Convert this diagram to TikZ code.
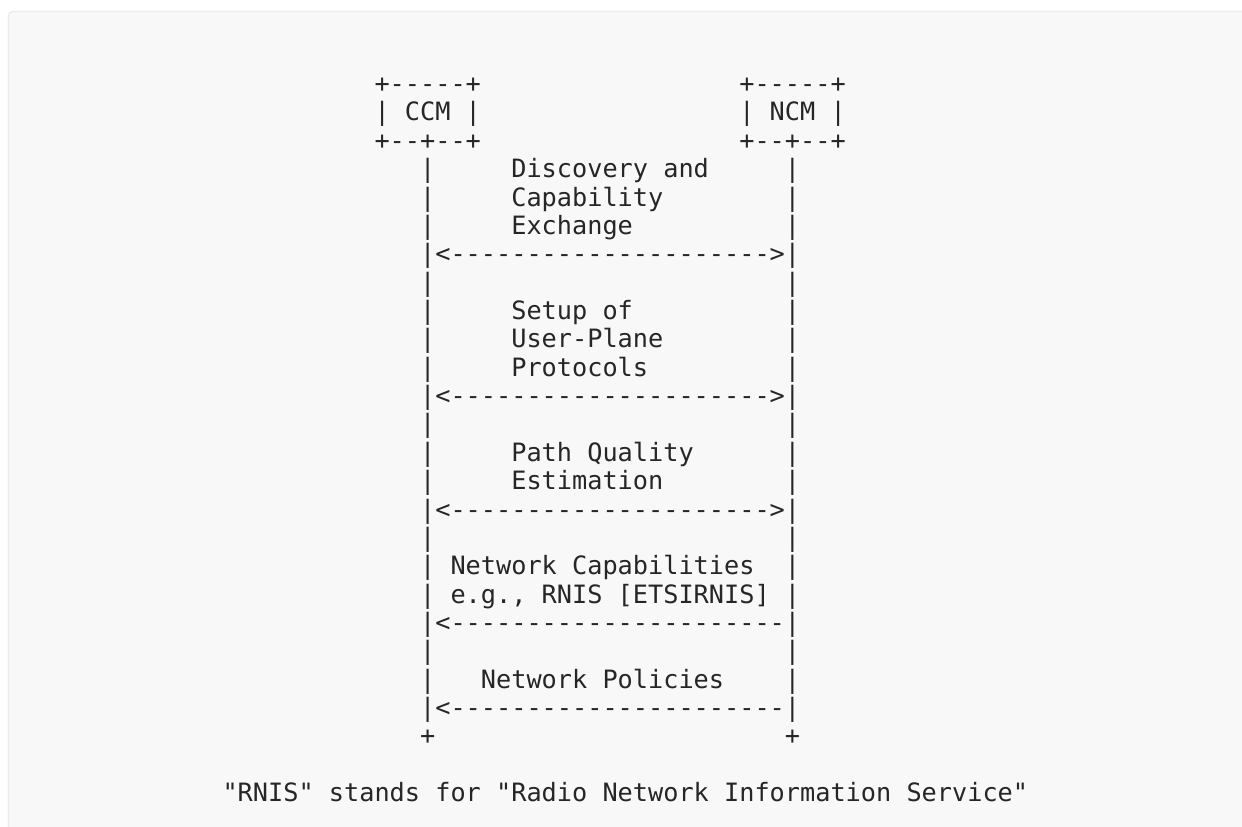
\documentclass[tikz,border=0pt]{standalone}
\usepackage{fontspec}
\setmonofont{DejaVu Sans Mono}
\begin{document}
\definecolor{panelfill}{HTML}{F8F8F8}
\definecolor{panelline}{HTML}{EBEBEB}
\definecolor{ink}{HTML}{262626}
\newcommand{\cw}{15.2}
\newcommand{\xo}{176.9}
\newcommand{\yo}{92.6}
\newcommand{\lh}{28.36}
\begin{tikzpicture}[x=1pt,y=-1pt,
  txt/.style={anchor=base west,inner sep=0pt,outer sep=0pt,text=ink,
    font=\ttfamily\fontsize{25.25}{28.36}\selectfont}]
\useasboundingbox (0,0) rectangle (1242,827);
\fill[panelfill,draw=panelline,line width=1.2pt,rounded corners=4pt] (8.5,11.5) rectangle (1262,870);
% boxes
\node[txt] (ccmtop) at ({\xo+13*\cw},{\yo+0*\lh}) {+-----+};
\node[txt] (ncmtop) at ({\xo+37*\cw},{\yo+0*\lh}) {+-----+};
\node[txt] (ccm) at ({\xo+13*\cw},{\yo+1*\lh}) {| CCM |};
\node[txt] (ncm) at ({\xo+37*\cw},{\yo+1*\lh}) {| NCM |};
\node[txt] (ccmbot) at ({\xo+13*\cw},{\yo+2*\lh}) {+--+--+};
\node[txt] (ncmbot) at ({\xo+37*\cw},{\yo+2*\lh}) {+--+--+};
% lifelines
\foreach \r in {3,4,5,7,8,9,10,12,13,14,16,17,18,20,21}{
  \node[txt] (ll\r) at ({\xo+16*\cw},{\yo+\r*\lh}) {|};
  \node[txt] (rl\r) at ({\xo+40*\cw},{\yo+\r*\lh}) {|};
}
% arrows
\foreach \r in {6,11,15}{
  \node[txt] (arr\r) at ({\xo+16*\cw},{\yo+\r*\lh}) {|<--------------------->|};
}
\foreach \r in {19,22}{
  \node[txt] (arr\r) at ({\xo+16*\cw},{\yo+\r*\lh}) {|<----------------------|};
}
% labels
\node[txt] (m1a) at ({\xo+22*\cw},{\yo+3*\lh}) {Discovery and};
\node[txt] (m1b) at ({\xo+22*\cw},{\yo+4*\lh}) {Capability};
\node[txt] (m1c) at ({\xo+22*\cw},{\yo+5*\lh}) {Exchange};
\node[txt] (m2a) at ({\xo+22*\cw},{\yo+8*\lh}) {Setup of};
\node[txt] (m2b) at ({\xo+22*\cw},{\yo+9*\lh}) {User-Plane};
\node[txt] (m2c) at ({\xo+22*\cw},{\yo+10*\lh}) {Protocols};
\node[txt] (m3a) at ({\xo+22*\cw},{\yo+13*\lh}) {Path Quality};
\node[txt] (m3b) at ({\xo+22*\cw},{\yo+14*\lh}) {Estimation};
\node[txt] (m4a) at ({\xo+18*\cw},{\yo+17*\lh}) {Network Capabilities};
\node[txt] (m4b) at ({\xo+18*\cw},{\yo+18*\lh}) {e.g., RNIS [ETSIRNIS]};
\node[txt] (m5a) at ({\xo+20*\cw},{\yo+21*\lh}) {Network Policies};
% ends
\node[txt] (lend) at ({\xo+16*\cw},{\yo+23*\lh}) {+};
\node[txt] (rend) at ({\xo+40*\cw},{\yo+23*\lh}) {+};
% caption
\node[txt] (note) at ({\xo+3*\cw},{\yo+25*\lh}) {"RNIS" stands for "Radio Network Information Service"};
\end{tikzpicture}
\end{document}
